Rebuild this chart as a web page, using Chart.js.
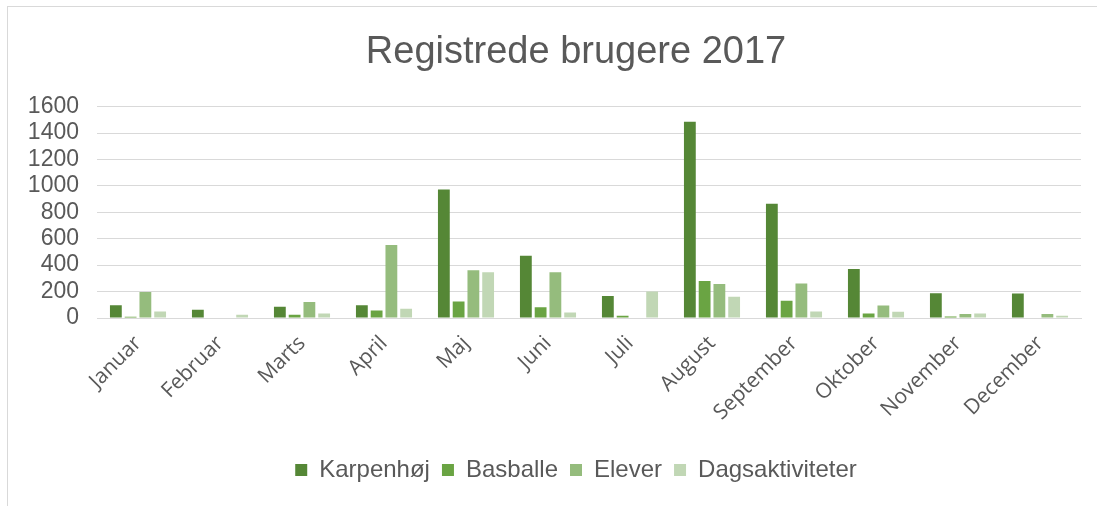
<!DOCTYPE html>
<html>
<head>
<meta charset="utf-8">
<script src="https://cdn.jsdelivr.net/npm/chart.js@4"></script>
<style>
    html, body { margin: 0; padding: 0; background: #fff; }
    #wrap { position: relative; width: 1097px; height: 506px; overflow: hidden; }
    #inner { position: absolute; left: 0; top: 0; width: 1200px; height: 506px; }
    #frame { position: absolute; left: 7px; top: 6px; width: 1200px; height: 600px;
             border-left: 1.5px solid #d9d9d9; border-top: 1.5px solid #d9d9d9; pointer-events: none; }
</style>
</head>
<body>
<div id="wrap">
    <div id="inner"><canvas id="brugereChart"></canvas></div>
    <div id="frame"></div>
</div>
<script>
// Måneder og antal registrerede brugere pr. sted
const months = ['Januar', 'Februar', 'Marts', 'April', 'Maj', 'Juni', 'Juli', 'August', 'September', 'Oktober', 'November', 'December']
const karpenhoj = [97, 62, 85, 97, 972, 472, 167, 1485, 865, 370, 187, 185]
const basballe = [10, 0, 25, 57, 125, 82, 17, 280, 130, 35, 12, 0]
const elever = [197, 0, 122, 552, 362, 347, 0, 257, 262, 95, 30, 30]
const dagsaktiviteter = [50, 25, 35, 70, 347, 42, 200, 160, 50, 47, 35, 17]
const yTicks = [0, 200, 400, 600, 800, 1000, 1200, 1400, 1600]

const grey = '#595959'

function makeSet(label, data, color) {
    return {
        label: label,
        data: data,
        backgroundColor: color,
        borderWidth: 0,
        categoryPercentage: 0.72,
        barPercentage: 0.8
    }
}

const ctx = document.getElementById('brugereChart')
new Chart(ctx, {
    type: 'bar',
    data: {
        labels: months,
        datasets: [
            makeSet('Karpenhøj', karpenhoj, '#558736'),
            makeSet('Basballe', basballe, '#6aa443'),
            makeSet('Elever', elever, '#95bc7d'),
            makeSet('Dagsaktiviteter', dagsaktiviteter, '#c1d7b5')
        ]
    },
    options: {
        responsive: true,
        maintainAspectRatio: false,
        animation: false,
        layout: {
            padding: { left: 0, right: 48, top: 0, bottom: 14 }
        },
        scales: {
            x: {
                grid: { display: false, drawTicks: false },
                border: { display: true, color: '#d9d9d9', width: 1 },
                ticks: {
                    color: grey,
                    font: { family: '"Open Sans"', size: 21 },
                    minRotation: 45,
                    maxRotation: 45,
                    padding: 13,
                    autoSkip: false
                },
                afterFit: (axis) => { axis.height = 128 }
            },
            y: {
                min: 0,
                max: 1600,
                afterBuildTicks: (axis) => { axis.ticks = yTicks.map((v) => ({ value: v })) },
                grid: { color: '#d9d9d9', lineWidth: 1, drawTicks: false },
                border: { display: false },
                ticks: {
                    color: grey,
                    font: { family: '"Liberation Sans", Arial', size: 23 },
                    padding: 18,
                    autoSkip: false,
                    callback: (value) => String(value)
                },
                afterFit: (axis) => { axis.width = 97 }
            },
            // tom akse til højre, så titel og legend centreres som i Excel
            yRight: {
                position: 'right',
                min: 0,
                max: 1600,
                grid: { display: false },
                border: { display: false },
                ticks: { display: false },
                afterFit: (axis) => { axis.width = 71 }
            }
        },
        plugins: {
            title: {
                display: true,
                text: 'Registrede brugere 2017',
                color: grey,
                font: { family: '"Liberation Sans", Arial', size: 38, weight: 'normal' },
                padding: { top: 30, bottom: 31 }
            },
            legend: {
                position: 'bottom',
                labels: {
                    color: grey,
                    font: { family: '"Liberation Sans", Arial', size: 24 },
                    boxWidth: 12,
                    boxHeight: 12,
                    padding: 12
                }
            },
            tooltip: { enabled: false }
        }
    }
})
</script>
</body>
</html>
